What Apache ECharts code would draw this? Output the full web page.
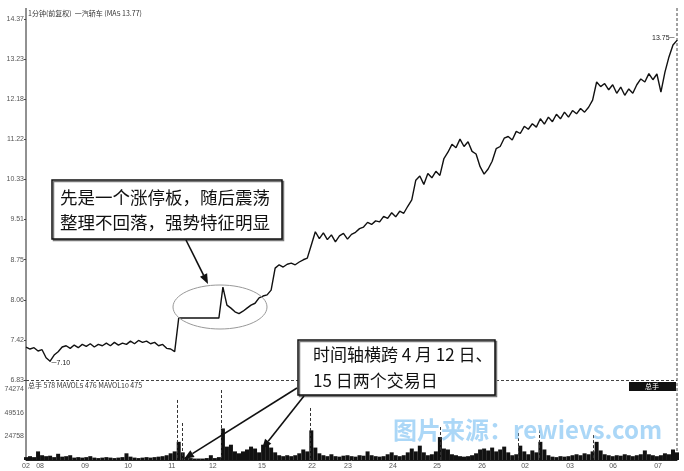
<!DOCTYPE html>
<html><head><meta charset="utf-8">
<script src="https://cdn.jsdelivr.net/npm/echarts@6/dist/echarts.min.js"></script>
<style>html,body{margin:0;padding:0;background:#fff}#c{width:684px;height:471px}</style>
</head><body><div id="c"></div>
<script>
// price axis tick labels (log spaced, bottom -> top)
const priceTickLabels = ['6.83','7.42','8.06','8.75','9.51','10.33','11.22','12.18','13.23','14.37'];
// volume axis tick labels
const volTickLabels = ['','24758','49516','74274'];
const volTickValues = [0, 24758, 49516, 74274];
// time axis labels (positions in bar index)
const xTickPos = [0, 3.5, 14.7, 25.4, 36.3, 46.5, 58.7, 71.2, 80.1, 91.3, 102.3, 113.5, 124.2, 135.4, 146.1, 157.3];
const xTickLabels = ['02','08','09','10','11','12','15','22','23','24','25','26','02','03','06','07'];
// 1-minute close prices (sampled)
const price = [
7.31,7.28,7.30,7.25,7.27,7.15,7.10,7.19,7.24,7.31,
7.33,7.29,7.34,7.30,7.35,7.32,7.36,7.31,7.35,7.33,
7.37,7.33,7.38,7.34,7.37,7.35,7.40,7.36,7.41,7.38,
7.40,7.36,7.38,7.33,7.35,7.29,7.28,7.24,7.76,7.76,
7.76,7.76,7.76,7.76,7.76,7.76,7.76,7.76,7.76,8.27,
7.97,7.92,7.86,7.83,7.87,7.92,7.97,8.00,8.09,8.12,
8.14,8.22,8.60,8.66,8.62,8.67,8.69,8.66,8.71,8.75,
8.78,9.02,9.27,9.14,9.25,9.12,9.21,9.08,9.19,9.24,
9.13,9.22,9.26,9.33,9.36,9.45,9.41,9.48,9.46,9.57,
9.53,9.64,9.56,9.67,9.63,9.77,9.90,10.31,10.40,10.22,
10.45,10.36,10.50,10.41,10.78,10.92,11.10,11.02,11.22,11.05,
11.16,10.94,10.88,10.60,10.44,10.55,10.72,11.00,11.05,11.24,
11.28,11.20,11.40,11.35,11.52,11.45,11.58,11.50,11.70,11.57,
11.74,11.63,11.81,11.70,11.86,11.74,11.90,11.82,11.95,11.86,
11.98,12.16,12.62,12.50,12.58,12.42,12.55,12.33,12.49,12.28,
12.44,12.33,12.55,12.70,12.62,12.84,12.68,12.83,12.36,12.88,
13.29,13.62,13.75
];
// volume (总手)
const volume = [
3000,4000,3000,9000,5000,4000,4500,3000,6500,3500,
4000,5000,2500,3000,2500,3000,4000,2500,2000,2500,
3000,2500,2000,2500,3000,7000,3500,2500,2000,2500,
3000,2500,3000,3500,4000,5000,7000,9000,19000,8000,
3000,2000,1500,1500,1500,2000,5000,2000,3000,33000,
14000,16000,9000,7000,9000,11000,14000,12000,8000,16000,
18000,13000,8000,5000,4000,5000,4000,5000,7000,11000,
9000,31000,13000,7000,5000,4000,6000,4000,3500,4500,
5000,4000,3500,5000,4500,9000,5000,4000,3500,4000,
6000,8000,5000,4000,5000,8000,12000,9000,15000,8000,
5000,6000,9000,24000,12000,11000,6000,5000,4000,3500,
4000,5000,7000,11000,12000,10000,13000,9000,11000,14000,
8000,5000,6000,15000,9000,6000,10000,8000,19000,11000,
5000,3500,3000,4000,3500,4000,5000,6000,5000,7000,
6000,9000,19000,10000,6000,5000,4000,5000,4500,6000,
5000,4000,5000,6000,10000,6000,5000,4000,5000,7000,
6000,11000,8000
];
// dashed volume markers
const volDashPos = [37.6, 38.8, 48.5, 70.7, 103.0, 122.4, 127.7, 141.1];
const volDashTop = [62800, 38700, 73200, 54400, 34500, 28200, 31400, 26000];

const pMin = parseFloat(priceTickLabels[0]);
const pMax = parseFloat(priceTickLabels[priceTickLabels.length - 1]);
const steps = priceTickLabels.length - 1;
const toStep = p => steps * Math.log(p / pMin) / Math.log(pMax / pMin);
const N = price.length;
const priceData = price.map((p, i) => [i, toStep(p)]);
const volData = volume.map((v, i) => [i, v]);
let iMax = 0, iMin = 0;
price.forEach((p, i) => { if (p > price[iMax]) iMax = i; if (p < price[iMin]) iMin = i; });

const chart = echarts.init(document.getElementById('c'));
const lbl = { fontSize: 7, color: '#555', fontFamily: 'Liberation Sans' };

function arrow(x1, y1, x2, y2) {
  const dx = x2 - x1, dy = y2 - y1, L = Math.hypot(dx, dy);
  const ux = dx / L, uy = dy / L, px = -uy, py = ux;
  const hl = 10, hw = 4;
  const bx = x2 - ux * hl, by = y2 - uy * hl;
  return [
    { type: 'line', z: 101, shape: { x1, y1, x2: bx, y2: by }, style: { stroke: '#111', lineWidth: 1.6 } },
    { type: 'polygon', z: 101, shape: { points: [[x2, y2], [bx + px * hw, by + py * hw], [bx - px * hw, by - py * hw]] }, style: { fill: '#111' } }
  ];
}
const cjk = '"Noto Sans CJK SC", sans-serif';
const graphics = [
  { type: 'line', shape: { x1: 26, y1: 8, x2: 26, y2: 460 }, style: { stroke: '#222', lineWidth: 1 } },
  { type: 'line', shape: { x1: 677, y1: 8, x2: 677, y2: 460 }, style: { stroke: '#444', lineWidth: 1, lineDash: [3, 2] } },
  { type: 'line', shape: { x1: 26, y1: 380.5, x2: 677, y2: 380.5 }, style: { stroke: '#444', lineWidth: 1, lineDash: [3, 2] } },
  { type: 'text', x: 28, y: 10, style: { text: '1分钟(前复权)  一汽轿车 (MA5 13.77)', fontSize: 7, fill: '#333', fontFamily: cjk } },
  { type: 'text', x: 28, y: 382, style: { text: '总手 578 MAVOL5 476 MAVOL10 475', fontSize: 7, fill: '#333', fontFamily: cjk } },
  { type: 'rect', shape: { x: 629, y: 382, width: 47, height: 9 }, style: { fill: '#111' } },
  { type: 'text', x: 652, y: 386.5, style: { text: '总手', fontSize: 7, fill: '#fff', align: 'center', verticalAlign: 'middle', fontFamily: cjk } },
  { type: 'ellipse', z: 100, shape: { cx: 220, cy: 307, rx: 47, ry: 22 }, style: { fill: 'none', stroke: '#999', lineWidth: 1 } },
  { type: 'rect', z: 100, shape: { x: 52, y: 180, width: 230, height: 59 }, style: { fill: '#fff', stroke: '#111', lineWidth: 1.5, shadowColor: '#777', shadowOffsetX: 1.5, shadowOffsetY: 1.5 } },
  { type: 'text', z: 101, x: 60, y: 197, style: { text: '先是一个涨停板，随后震荡', fontSize: 17.5, fill: '#111', verticalAlign: 'middle', fontFamily: cjk } },
  { type: 'text', z: 101, x: 60, y: 222, style: { text: '整理不回落，强势特征明显', fontSize: 17.5, fill: '#111', verticalAlign: 'middle', fontFamily: cjk } },
  { type: 'rect', z: 100, shape: { x: 298, y: 340, width: 197, height: 55 }, style: { fill: '#fff', stroke: '#111', lineWidth: 1.5, shadowColor: '#777', shadowOffsetX: 1.5, shadowOffsetY: 1.5 } },
  { type: 'text', z: 101, x: 313, y: 355, style: { text: '时间轴横跨 4 月 12 日、', fontSize: 17, fill: '#111', verticalAlign: 'middle', fontFamily: cjk } },
  { type: 'text', z: 101, x: 313, y: 381, style: { text: '15 日两个交易日', fontSize: 17, fill: '#111', verticalAlign: 'middle', fontFamily: cjk } },
  ...arrow(186, 240, 208, 284),
  ...arrow(297, 388, 184, 459),
  ...arrow(304, 396, 262, 449),
  { type: 'text', z: 102, x: 393, y: 430, style: { text: '图片来源：rewievs.com', fontSize: 24, fontWeight: 'bold', fill: 'rgba(150,205,245,0.8)', verticalAlign: 'middle', fontFamily: cjk } }
];

chart.setOption({
  animation: false,
  backgroundColor: '#fff',
  grid: [
    { left: 26, right: 7, top: 19, height: 361 },
    { left: 26, right: 7, top: 389, height: 71 }
  ],
  xAxis: [
    { gridIndex: 0, type: 'value', min: 0, max: N - 1, show: false },
    { gridIndex: 1, type: 'value', min: 0, max: N - 1,
      axisLine: { show: true, lineStyle: { color: '#222', width: 1 } },
      axisTick: { show: false }, splitLine: { show: false },
      axisLabel: Object.assign({ margin: 3, customValues: xTickPos, showMinLabel: true, showMaxLabel: true,
        formatter: v => { const k = xTickPos.indexOf(v); return k >= 0 ? xTickLabels[k] : ''; } }, lbl) }
  ],
  yAxis: [
    { gridIndex: 0, type: 'value', min: 0, max: steps, interval: 1,
      axisLine: { show: false }, splitLine: { show: false },
      axisTick: { show: true, length: 2, lineStyle: { color: '#444' } },
      axisLabel: Object.assign({ margin: 2, formatter: v => priceTickLabels[Math.round(v)] || '' }, lbl) },
    { gridIndex: 1, type: 'value', min: 0, max: volTickValues[3], interval: volTickValues[1],
      axisLine: { show: false }, splitLine: { show: false }, axisTick: { show: false },
      axisLabel: Object.assign({ margin: 2, formatter: v => { const k = volTickValues.indexOf(v); return k >= 0 ? volTickLabels[k] : ''; } }, lbl) }
  ],
  series: [
    { type: 'line', xAxisIndex: 0, yAxisIndex: 0, data: priceData, showSymbol: false,
      lineStyle: { color: '#111', width: 1.4 },
      markPoint: {
        symbol: 'circle', symbolSize: 1, itemStyle: { color: '#111' },
        data: [
          { coord: [iMax, toStep(price[iMax])], value: price[iMax],
            label: { show: true, position: 'left', distance: 2, offset: [0, -2], formatter: p => p.value.toFixed(2) + '─', fontSize: 7, color: '#222', fontFamily: 'Liberation Sans' } },
          { coord: [iMin, toStep(price[iMin])], value: price[iMin],
            label: { show: true, position: 'right', distance: 1, offset: [0, 2], formatter: p => '─' + p.value.toFixed(2), fontSize: 7, color: '#222', fontFamily: 'Liberation Sans' } }
        ]
      }
    },
    { type: 'bar', xAxisIndex: 1, yAxisIndex: 1, data: volData, barWidth: 4, itemStyle: { color: '#111' },
      markLine: { symbol: 'none', silent: true, label: { show: false },
        lineStyle: { color: '#333', type: [3, 2], width: 1 },
        data: volDashPos.map((x, k) => [{ coord: [x, volDashTop[k]] }, { coord: [x, 0] }]) }
    }
  ],
  graphic: graphics
});
</script>
</body></html>
